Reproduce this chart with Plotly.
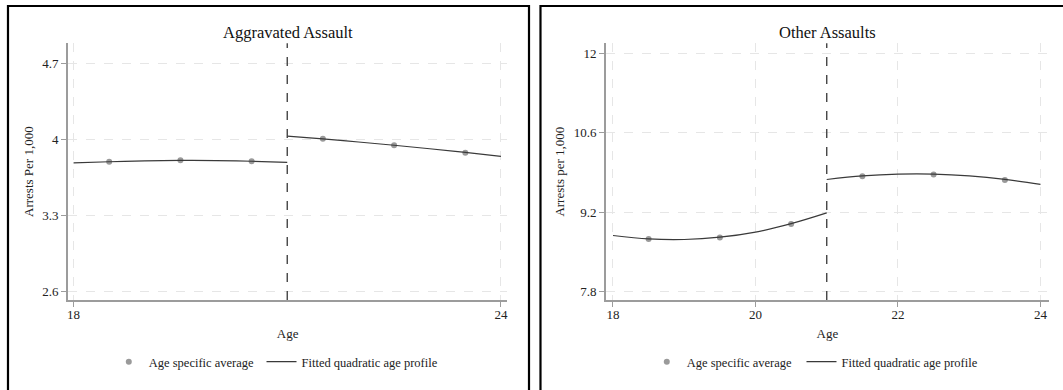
import plotly.graph_objects as go

# ---------------- data ----------------
ages_avg = [18.5, 19.5, 20.5, 21.5, 22.5, 23.5]
agg_avg = [3.794, 3.806, 3.797, 4.005, 3.945, 3.877]
oth_avg = [8.729, 8.754, 8.994, 9.835, 9.865, 9.770]

fit_age_pre = [18.0, 18.5, 19.0, 19.5, 20.0, 20.5, 21.0]
fit_age_post = [21.0, 21.5, 22.0, 22.5, 23.0, 23.5, 24.0]
agg_fit_pre = [3.782, 3.793, 3.801, 3.805, 3.804, 3.798, 3.788]
agg_fit_post = [4.030, 4.003, 3.975, 3.945, 3.913, 3.879, 3.843]
oth_fit_pre = [8.790, 8.730, 8.720, 8.760, 8.850, 9.000, 9.190]
oth_fit_post = [9.777, 9.839, 9.870, 9.871, 9.841, 9.780, 9.690]

cutoff = 21
titles = ["Aggravated Assault", "Other Assaults"]
ytitles = ["Arrests Per 1,000", "Arrests per 1,000"]
agg_yticks = [2.6, 3.3, 4.0, 4.7]
agg_yticklabels = ["2.6", "3.3", "4", "4.7"]
oth_yticks = [7.8, 9.2, 10.6, 12.0]
oth_yticklabels = ["7.8", "9.2", "10.6", "12"]
agg_xticks = [18, 24]
oth_xticks = [18, 20, 22, 24]
legend_names = ["Age specific average", "Fitted quadratic age profile"]

# ---------------- layout helpers ----------------
W, H = 1063, 390
FONT = "Liberation Serif, Times New Roman, serif"
PT_COLOR = "#9a9a9a"
LN_COLOR = "#3a3a3a"
AX_COLOR = "#9c9c9c"
GRID = "#e6e6e6"
LEG_PAD = 1  # approx inner offset of plotly legend items


def px_x(p):
    return p / W


def px_y(p):
    return 1 - p / H


fig = go.Figure()

panels = [
    dict(avg=agg_avg, pre=agg_fit_pre, post=agg_fit_post, xa="x", ya="y",
         legs=("legend", "legend2")),
    dict(avg=oth_avg, pre=oth_fit_pre, post=oth_fit_post, xa="x2", ya="y2",
         legs=("legend3", "legend4")),
]

for p in panels:
    fig.add_trace(go.Scatter(
        x=ages_avg, y=p["avg"], mode="markers", name=legend_names[0],
        marker=dict(color=PT_COLOR, size=6), xaxis=p["xa"], yaxis=p["ya"],
        legend=p["legs"][0], showlegend=True))
    fig.add_trace(go.Scatter(
        x=fit_age_pre, y=p["pre"], mode="lines", name=legend_names[1],
        line=dict(color=LN_COLOR, width=1.2, shape="spline"),
        xaxis=p["xa"], yaxis=p["ya"], legend=p["legs"][1], showlegend=True))
    fig.add_trace(go.Scatter(
        x=fit_age_post, y=p["post"], mode="lines", name=legend_names[1],
        line=dict(color=LN_COLOR, width=1.2, shape="spline"),
        xaxis=p["xa"], yaxis=p["ya"], legend=p["legs"][1], showlegend=False))

axis_common = dict(
    showline=True, linecolor=AX_COLOR, linewidth=1.5,
    ticks="outside", ticklen=5, tickcolor=AX_COLOR, tickwidth=1,
    showgrid=True, gridcolor=GRID, griddash="dash", gridwidth=1,
    zeroline=False, tickfont=dict(family=FONT, size=13, color="#222"),
    title_font=dict(family=FONT, size=13, color="#222"),
)


def leg(text_start_px):
    return dict(orientation="h", x=px_x(text_start_px - 40 - LEG_PAD),
                xanchor="left", y=px_y(362), yanchor="middle", itemwidth=30,
                font=dict(family=FONT, size=12.5, color="#222"),
                bgcolor="rgba(0,0,0,0)")


fig.update_layout(
    width=W, height=H,
    margin=dict(l=0, r=0, t=0, b=0),
    paper_bgcolor="white", plot_bgcolor="white",
    font=dict(family=FONT, color="#222"),
    xaxis=dict(domain=[px_x(67), px_x(507.3)], range=[17.92, 24.09],
               tickvals=agg_xticks, anchor="y", ticklabelstandoff=-3,
               title=dict(text="Age", standoff=8), **axis_common),
    yaxis=dict(domain=[px_y(300), px_y(43.3)], range=[2.52, 4.884],
               tickvals=agg_yticks, ticktext=agg_yticklabels, anchor="x",
               title=dict(text=ytitles[0], standoff=6), **axis_common),
    xaxis2=dict(domain=[px_x(606), px_x(1050)], range=[17.9, 24.12],
                tickvals=oth_xticks, anchor="y2", ticklabelstandoff=-3,
                title=dict(text="Age", standoff=8), **axis_common),
    yaxis2=dict(domain=[px_y(300), px_y(43.3)], range=[7.654, 12.176],
                tickvals=oth_yticks, ticktext=oth_yticklabels, anchor="x2",
                title=dict(text=ytitles[1], standoff=6), **axis_common),
    legend=leg(149),
    legend2=leg(302),
    legend3=leg(688),
    legend4=leg(843),
    showlegend=True,
)

# subplot titles
for i, cx in enumerate([(67 + 507.3) / 2, (606 + 1050) / 2]):
    fig.add_annotation(text=titles[i], xref="paper", yref="paper",
                       x=px_x(cx), y=px_y(32), xanchor="center",
                       yanchor="middle", showarrow=False,
                       font=dict(family=FONT, size=16.5, color="#111"))

# cutoff dashed lines
for xa, ya in [("x", "y"), ("x2", "y2")]:
    fig.add_shape(type="line", xref=xa, yref=f"{ya} domain",
                  x0=cutoff, x1=cutoff, y0=0, y1=1,
                  line=dict(color="#444", width=1.4, dash="dash"))

# panel borders
fig.add_shape(type="rect", xref="paper", yref="paper",
              x0=px_x(7), x1=px_x(529), y0=-0.05, y1=px_y(6),
              line=dict(color="black", width=2.2))
fig.add_shape(type="rect", xref="paper", yref="paper",
              x0=px_x(540.5), x1=1.05, y0=-0.05, y1=px_y(6),
              line=dict(color="black", width=2.2))

fig.write_html("out.html")
